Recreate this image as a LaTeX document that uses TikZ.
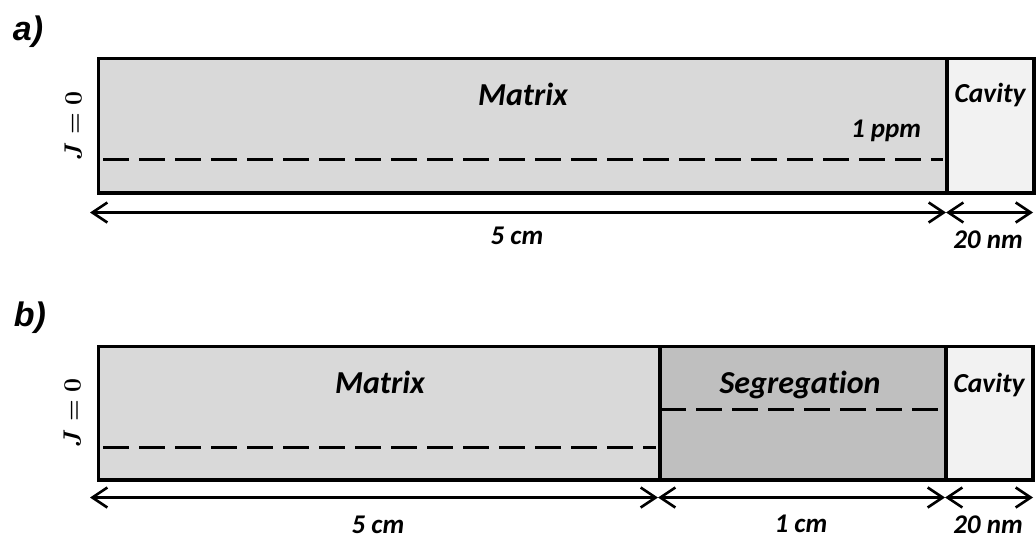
\documentclass[tikz,border=0pt]{standalone}
\usepackage[no-math]{fontspec}
\setmainfont[Ligatures=NoCommon]{Carlito}
\newfontfamily\panelfont{Liberation Sans}
\usetikzlibrary{positioning, arrows.meta}

\definecolor{matrixgray}{gray}{0.85}
\definecolor{seggray}{gray}{0.75}
\definecolor{cavitygray}{gray}{0.95}

\begin{document}
\begin{tikzpicture}[
    x=1pt, y=-1pt,
    >={Straight Barb[length=15pt, width=20pt]},
    region/.style={draw=black, line width=3.5pt, inner sep=0pt, anchor=north west},
    level/.style={draw=black, line width=3pt, dash pattern=on 26pt off 10pt},
    dim/.style={draw=black, line width=2.6pt, <->},
    zone/.style={font=\fontsize{32}{32}\selectfont\bfseries\itshape, anchor=base, inner sep=0pt},
    cav/.style={font=\fontsize{27.5}{28}\selectfont\bfseries\itshape, anchor=base, inner sep=0pt},
    size/.style={font=\fontsize{27}{27}\selectfont\bfseries\itshape, anchor=base, inner sep=0pt},
    flux/.style={font=\fontsize{31}{31}\selectfont\boldmath, rotate=90, inner sep=0pt},
    panel/.style={font=\panelfont\fontsize{34}{34}\selectfont\bfseries\itshape, inner sep=0pt}
]
\useasboundingbox (0,0) rectangle (1036,538);

% Panel a
\node[panel] (labA) at (28,32) {a)};
\node[region, fill=matrixgray, minimum width=848.5pt, minimum height=134.5pt] (matA) at (96.5,56.5) {};
\node[region, fill=cavitygray, minimum width=87pt, minimum height=134.5pt] (cavA) at (945,56.5) {};
\node[flux] (jA) at (73,126) {$J=0$};
\node[zone] (matTextA) at (523,105) {Matrix};
\node[cav] (cavTextA) at (990,102) {Cavity};
\node[size] (ppmA) at (886,137) {1 ppm};
\draw[level] (103,159.5) -- (943,159.5);

% Dimensions a
\coordinate (dA0) at (90,212.5);
\coordinate (dA1) at (946,212.5);
\coordinate (dA2) at (1033,212.5);
\draw[dim] (dA0) -- (dA1);
\draw[dim] (dA1) -- (dA2);
\node[size] (lenA1) at (517,244) {5 cm};
\node[size] (lenA2) at (988,248) {20 nm};

% Panel b
\node[panel] (labB) at (30,318) {b)};
\node[region, fill=matrixgray, minimum width=561.5pt, minimum height=133.5pt] (matB) at (96.5,344.5) {};
\node[region, fill=seggray, minimum width=286pt, minimum height=133.5pt] (segB) at (658,344.5) {};
\node[region, fill=cavitygray, minimum width=87pt, minimum height=133.5pt] (cavB) at (944,344.5) {};
\node[flux] (jB) at (72,413) {$J=0$};
\node[zone] (matTextB) at (380,393) {Matrix};
\node[zone] (segTextB) at (800,393) {Segregation};
\node[cav] (cavTextB) at (989,392) {Cavity};
\draw[level] (103,447) -- (656,447);
\draw[level] (660,409) -- (941,409);

% Dimensions b
\coordinate (dB0) at (90,497.5);
\coordinate (dB1) at (658,497.5);
\coordinate (dB2) at (945,497.5);
\coordinate (dB3) at (1033,497.5);
\draw[dim] (dB0) -- (dB1);
\draw[dim] (dB1) -- (dB2);
\draw[dim] (dB2) -- (dB3);
\node[size] (lenB1) at (378,533) {5 cm};
\node[size] (lenB2) at (801,532) {1 cm};
\node[size] (lenB3) at (988,533) {20 nm};

\end{tikzpicture}
\end{document}
